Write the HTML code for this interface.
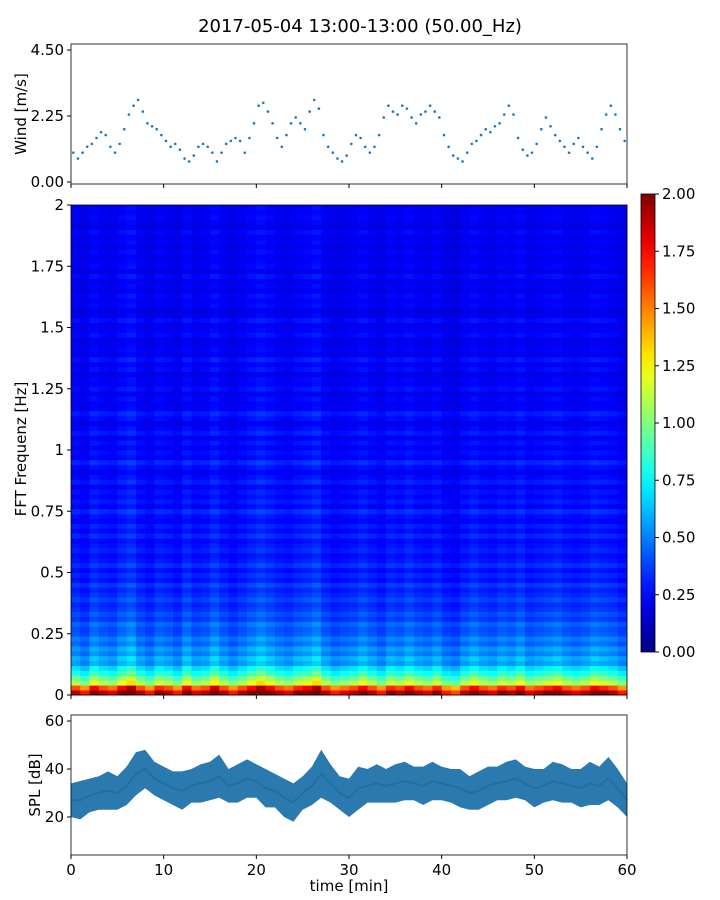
<!DOCTYPE html>
<html><head><meta charset="utf-8"><style>
html,body{margin:0;padding:0;background:#fff;}
svg{display:block;font-family:"DejaVu Sans","Liberation Sans",sans-serif;}
</style></head><body>
<svg id="fig" width="720" height="900" viewBox="0 0 720 900" xmlns="http://www.w3.org/2000/svg">
<text x="360" y="32" font-size="18" text-anchor="middle">2017-05-04 13:00-13:00 (50.00_Hz)</text>
<g id="wind"></g>
<g id="spec"></g>
<g id="cbar"></g>
<g id="spl"></g>
</svg>
<script>
// ---- data ----
const windValues=[1.0,0.8,1.0,1.2,1.3,1.5,1.7,1.6,1.2,1.0,1.3,1.8,2.3,2.6,2.8,2.4,2.0,1.9,1.8,1.6,1.4,1.2,1.3,1.1,0.8,0.7,0.9,1.2,1.3,1.2,1.0,0.7,1.0,1.3,1.4,1.5,1.4,1.0,1.5,2.0,2.6,2.7,2.4,2.0,1.5,1.2,1.6,2.0,2.2,2.0,1.8,2.4,2.8,2.5,1.6,1.2,1.0,0.8,0.7,0.9,1.3,1.6,1.5,1.2,1.0,1.2,1.6,2.2,2.6,2.4,2.3,2.6,2.5,2.2,2.0,2.3,2.4,2.6,2.4,2.2,1.6,1.2,0.9,0.8,0.7,1.0,1.3,1.4,1.6,1.8,1.7,1.9,2.0,2.3,2.6,2.3,1.5,1.1,0.9,1.0,1.3,1.8,2.2,1.9,1.6,1.4,1.2,1.0,1.3,1.5,1.2,1.0,0.8,1.2,1.8,2.3,2.6,2.3,1.8,1.4];
const windTicks=[0,2.25,4.5];
const windTickLabels=["0.00","2.25","4.50"];
const specRowLevel=[1.9,1.6,1.1,0.95,0.8,0.7,0.55,0.6,0.5,0.55,0.45,0.5,0.42,0.4,0.45,0.36,0.4,0.35,0.32,0.38,
0.33,0.3,0.36,0.28,0.32,0.27,0.34,0.29,0.26,0.31,0.28,0.25,0.32,0.26,0.3,0.24,0.27,0.33,0.25,0.29,
0.25,0.28,0.23,0.3,0.26,0.22,0.26,0.32,0.24,0.27,0.23,0.27,0.22,0.29,0.25,0.21,0.26,0.3,0.23,0.22,
0.25,0.21,0.27,0.23,0.24,0.2,0.26,0.22,0.28,0.21,0.24,0.22,0.2,0.26,0.23,0.21,0.27,0.22,0.19,0.24,
0.22,0.25,0.2,0.23,0.21,0.26,0.19,0.24,0.22,0.21,0.24,0.2,0.23,0.21,0.25,0.19,0.22,0.24,0.21,0.23];
const specColLevel=[1.0,0.9,1.1,1.0,0.95,1.1,1.2,1.0,0.9,1.05,1.0,0.9,1.1,0.95,1.0,1.15,1.0,0.9,1.0,1.1,1.2,1.1,1.0,0.95,1.05,1.1,1.2,1.0,0.9,0.95,1.0,1.1,1.0,0.9,1.05,1.0,1.1,1.0,0.95,1.05,0.9,0.85,1.0,1.1,1.0,0.95,1.05,1.0,1.1,0.95,1.0,1.05,1.1,1.0,0.95,1.0,1.1,1.05,1.0,0.9];
const freqTicks=[0,0.25,0.5,0.75,1,1.25,1.5,1.75,2];
const freqTickLabels=["0","0.25","0.5","0.75","1","1.25","1.5","1.75","2"];
const cbarTicks=[0,0.25,0.5,0.75,1,1.25,1.5,1.75,2];
const cbarTickLabels=["0.00","0.25","0.50","0.75","1.00","1.25","1.50","1.75","2.00"];
const splMean=[27,27,29,30,31,30,33,38,40,36,34,32,31,33,34,35,37,33,34,36,35,32,31,28,26,30,33,38,34,30,28,32,33,34,33,34,35,34,33,35,34,33,32,30,31,33,34,35,36,34,32,33,35,34,33,32,34,33,36,32,27];
const splSpread=[7,8,7,7,8,7,8,9,8,7,7,7,8,7,8,8,9,7,8,8,7,8,7,8,8,7,8,10,8,7,8,9,7,8,7,8,8,7,8,8,7,7,8,7,8,8,7,8,8,7,8,7,8,8,7,8,9,8,9,8,7];
const splTicks=[20,40,60];
const timeTicks=[0,10,20,30,40,50,60];

const NS="http://www.w3.org/2000/svg";
function mk(tag,attrs,parent){const e=document.createElementNS(NS,tag);for(const k in attrs)e.setAttribute(k,attrs[k]);parent.appendChild(e);return e;}
function jet(v){v=Math.max(0,Math.min(1,v));
 const r=Math.max(0,Math.min(1,1.5-Math.abs(4*v-3))),g=Math.max(0,Math.min(1,1.5-Math.abs(4*v-2))),b=Math.max(0,Math.min(1,1.5-Math.abs(4*v-1)));
 return `rgb(${Math.round(r*255)},${Math.round(g*255)},${Math.round(b*255)})`;}
const X0=71,X1=627;
const xScale=t=>X0+(t/60)*(X1-X0);

// ---- wind ----
const W=document.getElementById('wind');
const wy=v=>182-v*(132/4.5);
windValues.forEach((v,i)=>{
 const c=mk('circle',{cx:xScale(i*0.5+0.25),cy:wy(v),r:1.3,fill:'#1f77b4'},W);
 
 
});
const wf=mk('rect',{x:X0,y:44,width:X1-X0,height:140,fill:'none',stroke:'#000','stroke-width':0.8},W);

windTicks.forEach((t,i)=>{
 mk('line',{x1:X0-4,x2:X0,y1:wy(t),y2:wy(t),stroke:'#000'},W);
 const tx=mk('text',{x:X0-7,y:wy(t)+5,'font-size':15,'text-anchor':'end'},W);tx.textContent=windTickLabels[i];
 
});
timeTicks.forEach(t=>mk('line',{x1:xScale(t),x2:xScale(t),y1:184,y2:188,stroke:'#000'},W));
const wl=mk('text',{transform:'translate(26,114) rotate(-90)','font-size':15,'text-anchor':'middle'},W);wl.textContent='Wind [m/s]';


// ---- spectrogram ----
const S=document.getElementById('spec');
const SY0=205,SY1=695;
const fy=f=>SY1-(f/2)*(SY1-SY0);
const rowH=(SY1-SY0)/specRowLevel.length;
specColLevel.forEach((cl,c)=>{
 const x=xScale(c),w=xScale(c+1)-x;
 specRowLevel.forEach((rl,r)=>{
  const val=rl*cl;
  const y=fy((r+1)*2/specRowLevel.length);
  const rc=mk('rect',{x:x,y:y,width:w+0.4,height:rowH+0.4,fill:jet(val/2)},S);
  
  
 });
});
const sf=mk('rect',{x:X0,y:SY0,width:X1-X0,height:SY1-SY0,fill:'none',stroke:'#000','stroke-width':0.8},S);

freqTicks.forEach((f,i)=>{
 mk('line',{x1:X0-4,x2:X0,y1:fy(f),y2:fy(f),stroke:'#000'},S);
 const tx=mk('text',{x:X0-7,y:fy(f)+5,'font-size':15,'text-anchor':'end'},S);tx.textContent=freqTickLabels[i];
 
});
timeTicks.forEach(t=>mk('line',{x1:xScale(t),x2:xScale(t),y1:SY1,y2:SY1+4,stroke:'#000'},S));
const sl=mk('text',{transform:'translate(26,449) rotate(-90)','font-size':15,'text-anchor':'middle'},S);sl.textContent='FFT Frequenz [Hz]';


// ---- colorbar ----
const C=document.getElementById('cbar');
const CY0=194,CY1=652,CX=641,CW=14;
const cy=v=>CY1-(v/2)*(CY1-CY0);
const defs=mk('defs',{},C);
const lg=mk('linearGradient',{id:'jetg',x1:0,y1:1,x2:0,y2:0},defs);
for(let i=0;i<=20;i++)mk('stop',{offset:i/20,'stop-color':jet(i/20)},lg);
const cr=mk('rect',{x:CX,y:CY0,width:CW,height:CY1-CY0,fill:'url(#jetg)',stroke:'#000','stroke-width':0.8},C);

cbarTicks.forEach((v,i)=>{
 mk('line',{x1:CX+CW,x2:CX+CW+4,y1:cy(v),y2:cy(v),stroke:'#000'},C);
 const tx=mk('text',{x:CX+CW+7,y:cy(v)+5,'font-size':15},C);tx.textContent=cbarTickLabels[i];
 
});

// ---- SPL ----
const P=document.getElementById('spl');
const PY0=715,PY1=855;
const py=v=>865-v*2.4;
let up=[],lo=[];
splMean.forEach((m,i)=>{up.push(xScale(i)+','+py(m+splSpread[i]));lo.unshift(xScale(i)+','+py(m-splSpread[i]));});
const band=mk('polygon',{points:up.concat(lo).join(' '),fill:'#2a7ab0'},P);

const line=mk('polyline',{points:splMean.map((m,i)=>xScale(i)+','+py(m)).join(' '),fill:'none',stroke:'#1f6fa6','stroke-width':2},P);

const pf=mk('rect',{x:X0,y:PY0,width:X1-X0,height:PY1-PY0,fill:'none',stroke:'#000','stroke-width':0.8},P);

splTicks.forEach(t=>{
 mk('line',{x1:X0-4,x2:X0,y1:py(t),y2:py(t),stroke:'#000'},P);
 const tx=mk('text',{x:X0-7,y:py(t)+5,'font-size':15,'text-anchor':'end'},P);tx.textContent=t;
 
});
timeTicks.forEach(t=>{
 mk('line',{x1:xScale(t),x2:xScale(t),y1:PY1,y2:PY1+4,stroke:'#000'},P);
 const tx=mk('text',{x:xScale(t),y:PY1+20,'font-size':15,'text-anchor':'middle'},P);tx.textContent=t;
 
});
const pl=mk('text',{transform:'translate(40,785) rotate(-90)','font-size':15,'text-anchor':'middle'},P);pl.textContent='SPL [dB]';

const xl=mk('text',{x:349,y:891,'font-size':15,'text-anchor':'middle'},P);xl.textContent='time [min]';

</script>
</body></html>
